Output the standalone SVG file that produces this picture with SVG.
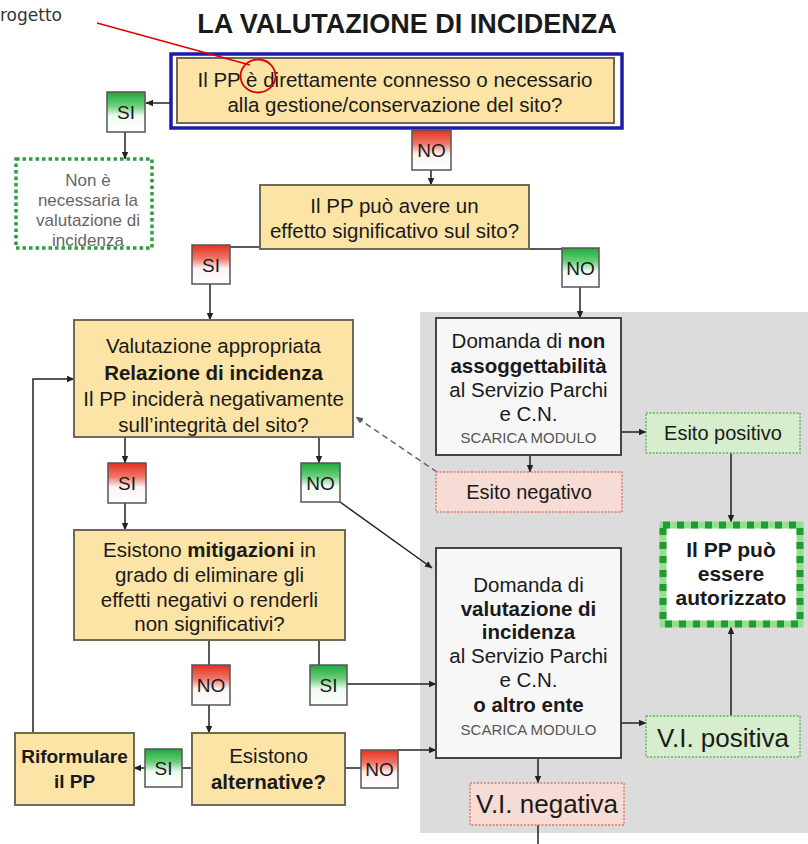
<svg xmlns="http://www.w3.org/2000/svg" width="808" height="844" viewBox="0 0 808 844">
<defs>
<style>
text{font-family:"Liberation Sans",Arial,sans-serif;fill:#1a1a1a;text-anchor:middle}
.t{font-size:20.5px}
.b{font-weight:bold}
.small{font-size:15px;fill:#555}
.lbl{font-size:19px}
.box{fill:#fce3a6;stroke:#6e6a55;stroke-width:2}
.dom{fill:#f7f7f7;stroke:#444;stroke-width:2}
.lr{fill:url(#rg);stroke:#555;stroke-width:1.5}
.lg{fill:url(#gg);stroke:#555;stroke-width:1.5}
.c{fill:none;stroke:#222;stroke-width:1.5}
.ca{fill:none;stroke:#222;stroke-width:1.5;marker-end:url(#ar)}
</style>
<linearGradient id="rg" x1="0" y1="0" x2="0" y2="1">
<stop offset="0" stop-color="#e5321f"/><stop offset="0.35" stop-color="#f0776a"/><stop offset="0.6" stop-color="#fdf3f2"/><stop offset="1" stop-color="#ffffff"/>
</linearGradient>
<linearGradient id="gg" x1="0" y1="0" x2="0" y2="1">
<stop offset="0" stop-color="#1ea83a"/><stop offset="0.35" stop-color="#6dcf7d"/><stop offset="0.6" stop-color="#f1fbf2"/><stop offset="1" stop-color="#ffffff"/>
</linearGradient>
<marker id="ar" markerWidth="8" markerHeight="8" refX="7" refY="4" orient="auto" markerUnits="userSpaceOnUse">
<path d="M0,0.8 L7.5,4 L0,7.2 Z" fill="#222"/>
</marker>
<marker id="arg" markerWidth="8" markerHeight="8" refX="7" refY="4" orient="auto" markerUnits="userSpaceOnUse">
<path d="M0,0.8 L7.5,4 L0,7.2 Z" fill="#555"/>
</marker>
</defs>

<rect x="420" y="312" width="388" height="521" fill="#dcdcdc"/>

<text x="407" y="33" class="b" style="font-size:27px">LA VALUTAZIONE DI INCIDENZA</text>
<text x="0" y="21" style="font-family:'DejaVu Sans',sans-serif;font-size:17px;fill:#333;text-anchor:start">rogetto</text>

<g id="connectors">
<path class="ca" d="M171,103 H146"/>
<path class="ca" d="M125,132 V159"/>
<path class="c" d="M431,123 V130"/>
<path class="ca" d="M431,170 V185"/>
<path class="c" d="M260,247 H230"/>
<path class="ca" d="M210,284 V320"/>
<path class="c" d="M529,249 H562"/>
<path class="ca" d="M580,287 V318"/>
<path class="ca" d="M125,437 V463"/>
<path class="ca" d="M125,503 V530"/>
<path class="ca" d="M319,437 V463"/>
<path class="ca" d="M340,502 L432,568"/>
<path d="M437,472 L356,417" fill="none" stroke="#666" stroke-width="1.5" stroke-dasharray="6,4" marker-end="url(#arg)"/>
<path class="ca" d="M621,432 H646"/>
<path class="ca" d="M530,455 V472"/>
<path class="ca" d="M731,453 V522"/>
<path class="c" d="M209,640 V665"/>
<path class="ca" d="M209,705 V733"/>
<path class="c" d="M319,640 V665"/>
<path class="ca" d="M347,684 H436"/>
<path class="c" d="M192,768 H182"/>
<path class="ca" d="M145,768 H134"/>
<path class="ca" d="M33,733 V379 H74"/>
<path class="c" d="M345,768 H361"/>
<path class="ca" d="M398,750 H436"/>
<path d="M436,750 H538" fill="none" stroke="#777" stroke-width="1.5" stroke-dasharray="5,3"/>
<path class="ca" d="M538,750 V783"/>
<path class="ca" d="M621,723 H646"/>
<path class="ca" d="M731,717 V627"/>
<path class="c" d="M538,825 V844"/>
</g>

<g id="q1">
<rect x="171" y="54" width="451" height="74" fill="#fff" stroke="#1c1ca8" stroke-width="3.5"/>
<rect x="177" y="58" width="437" height="65" class="box" stroke-width="1.5"/>
<text x="395" y="87" class="t">Il PP è direttamente connesso o necessario</text>
<text x="395" y="112" class="t">alla gestione/conservazione del sito?</text>
</g>

<g id="l1"><rect x="107" y="92" width="38" height="40" class="lg"/><text x="126" y="119" class="lbl">SI</text></g>

<g id="nonnecessaria">
<rect x="16" y="159" width="136" height="89" fill="#fff" stroke="#2e9e3e" stroke-width="3.5" stroke-dasharray="3.5,3"/>
<text x="88" y="186" style="font-size:17px;fill:#666">Non è</text>
<text x="88" y="206" style="font-size:17px;fill:#666">necessaria la</text>
<text x="88" y="226" style="font-size:17px;fill:#666">valutazione di</text>
<text x="88" y="246" style="font-size:17px;fill:#666">incidenza</text>
</g>

<g id="l2"><rect x="412" y="130" width="39" height="40" class="lr"/><text x="431.5" y="157" class="lbl">NO</text></g>

<g id="q2">
<rect x="260" y="185" width="269" height="64" class="box"/>
<text x="394.5" y="213" class="t">Il PP può avere un</text>
<text x="394.5" y="238" class="t">effetto significativo sul sito?</text>
</g>

<g id="l3"><rect x="192" y="245" width="38" height="39" class="lr"/><text x="211" y="272" class="lbl">SI</text></g>
<g id="l4"><rect x="562" y="248" width="37" height="39" class="lg"/><text x="580.5" y="275" class="lbl">NO</text></g>

<g id="q3">
<rect x="74" y="320" width="279" height="117" class="box"/>
<text x="213.5" y="353" class="t">Valutazione appropriata</text>
<text x="213.5" y="380" class="t b">Relazione di incidenza</text>
<text x="213.5" y="406" class="t">Il PP inciderà negativamente</text>
<text x="213.5" y="432" class="t">sull’integrità del sito?</text>
</g>

<g id="domanda1">
<rect x="436" y="318" width="185" height="137" class="dom"/>
<text x="528.5" y="348" class="t">Domanda di <tspan class="b">non</tspan></text>
<text x="528.5" y="373" class="t b">assoggettabilità</text>
<text x="528.5" y="397" class="t">al Servizio Parchi</text>
<text x="528.5" y="421" class="t">e C.N.</text>
<text x="528.5" y="443" class="small">SCARICA MODULO</text>
</g>

<g id="esitopos">
<rect x="646" y="413" width="154" height="40" fill="#d6eecd" stroke="#5fb85f" stroke-width="1.5" stroke-dasharray="2,1.5"/>
<text x="723" y="440" style="font-size:20px">Esito positivo</text>
</g>

<g id="esitoneg">
<rect x="436" y="472" width="186" height="40" fill="#f6dcd4" stroke="#e07a6a" stroke-width="1.5" stroke-dasharray="2,1.5"/>
<text x="529" y="499" style="font-size:20px">Esito negativo</text>
</g>

<g id="l5"><rect x="108" y="463" width="38" height="40" class="lr"/><text x="127" y="490" class="lbl">SI</text></g>
<g id="l6"><rect x="301" y="463" width="39" height="39" class="lg"/><text x="320.5" y="490" class="lbl">NO</text></g>

<g id="autorizzato">
<rect x="663" y="525" width="137" height="99" fill="#fff" stroke="#95df95" stroke-width="7"/>
<rect x="663" y="525" width="137" height="99" fill="none" stroke="#1f9e2f" stroke-width="7" stroke-dasharray="7,7"/>
<text x="731" y="557" class="b" style="font-size:21px">Il PP può</text>
<text x="731" y="581" class="b" style="font-size:21px">essere</text>
<text x="731" y="605" class="b" style="font-size:21px">autorizzato</text>
</g>

<g id="q4">
<rect x="74" y="530" width="271" height="110" class="box"/>
<text x="209.5" y="557" class="t">Esistono <tspan class="b">mitigazioni</tspan> in</text>
<text x="209.5" y="582" class="t">grado di eliminare gli</text>
<text x="209.5" y="607" class="t">effetti negativi o renderli</text>
<text x="209.5" y="631" class="t">non significativi?</text>
</g>

<g id="domanda2">
<rect x="436" y="548" width="185" height="210" class="dom"/>
<text x="528.5" y="592" class="t">Domanda di</text>
<text x="528.5" y="616" class="t b">valutazione di</text>
<text x="528.5" y="639" class="t b">incidenza</text>
<text x="528.5" y="663" class="t">al Servizio Parchi</text>
<text x="528.5" y="687" class="t">e C.N.</text>
<text x="528.5" y="712" class="t b">o altro ente</text>
<text x="528.5" y="735" class="small">SCARICA MODULO</text>
</g>

<g id="vipos">
<rect x="646" y="716" width="154" height="41" fill="#d6eecd" stroke="#5fb85f" stroke-width="1.5" stroke-dasharray="2,1.5"/>
<text x="723" y="747" style="font-size:26px">V.I. positiva</text>
</g>

<g id="vineg">
<rect x="470" y="783" width="154" height="42" fill="#f6dcd4" stroke="#e07a6a" stroke-width="1.5" stroke-dasharray="2,1.5"/>
<text x="547" y="813" style="font-size:26px">V.I. negativa</text>
</g>

<g id="l7"><rect x="192" y="665" width="38" height="40" class="lr"/><text x="211" y="692" class="lbl">NO</text></g>
<g id="l8"><rect x="310" y="665" width="37" height="40" class="lg"/><text x="328.5" y="692" class="lbl">SI</text></g>

<g id="riformulare">
<rect x="15" y="733" width="119" height="72" class="box"/>
<text x="74.5" y="763" class="b" style="font-size:19px">Riformulare</text>
<text x="74.5" y="788" class="b" style="font-size:19px">il PP</text>
</g>

<g id="l9"><rect x="145" y="749" width="37" height="38" class="lg"/><text x="163.5" y="775" class="lbl">SI</text></g>

<g id="alternative">
<rect x="192" y="733" width="153" height="72" class="box"/>
<text x="268.5" y="763" class="t">Esistono</text>
<text x="268.5" y="789" class="t b">alternative?</text>
</g>

<g id="l10"><rect x="361" y="750" width="37" height="38" class="lr"/><text x="379.5" y="776" class="lbl">NO</text></g>

<g id="annotation">
<path d="M97,23 L250,65" stroke="#e00000" stroke-width="1.5" fill="none"/>
<ellipse cx="258" cy="76" rx="17.5" ry="16.5" fill="none" stroke="#e00000" stroke-width="1.8"/>
</g>
</svg>
